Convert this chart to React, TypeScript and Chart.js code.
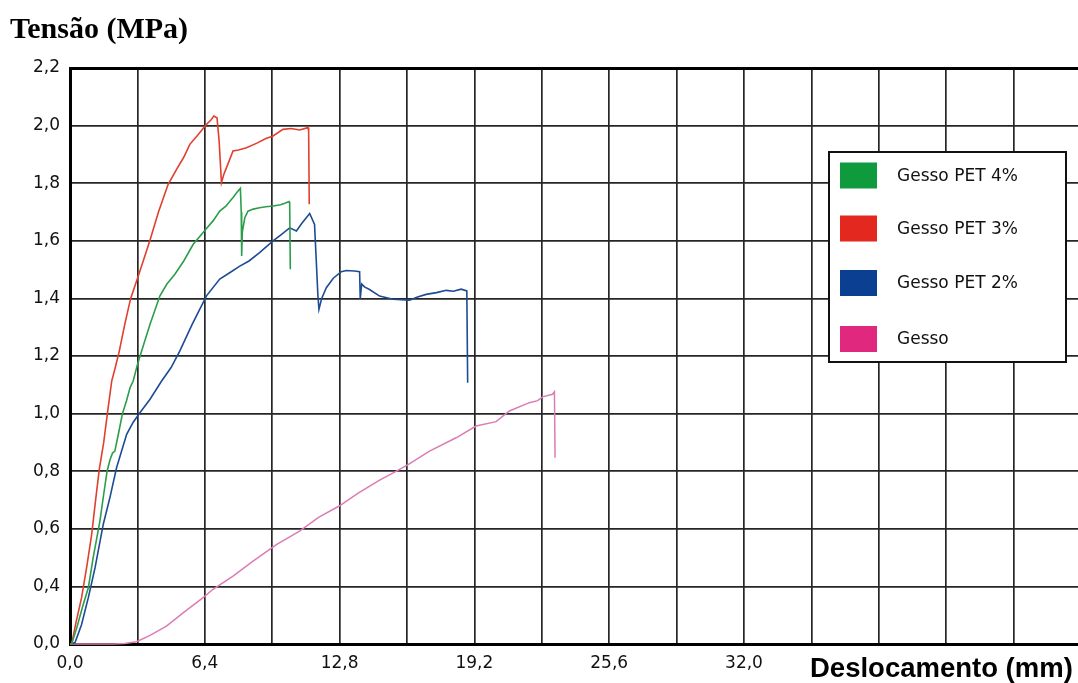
import React, { useEffect, useRef } from "react";
import { Chart, registerables } from "chart.js";

Chart.register(...registerables);

// ---- Data (Deslocamento mm, Tensão MPa as read against the axis labels) ----
const pet4X = [0, 0.08, 0.32, 0.6, 0.87, 1.1, 1.42, 1.6, 1.76, 1.9, 2.02, 2.13, 2.3, 2.49, 2.68, 2.85, 3.0, 3.2, 3.4, 3.8, 4.27, 4.6, 4.98, 5.4, 5.85, 6.45, 6.8, 7.11, 7.4, 7.74, 7.95, 8.09, 8.13, 8.15, 8.18, 8.3, 8.45, 8.7, 9.0, 9.3, 9.64, 10.0, 10.2, 10.4, 10.43, 10.46];
const pet4Y = [0.2, 0.2, 0.256, 0.33, 0.395, 0.5, 0.627, 0.72, 0.8, 0.84, 0.863, 0.87, 0.93, 1.0, 1.044, 1.09, 1.113, 1.17, 1.217, 1.31, 1.409, 1.45, 1.484, 1.53, 1.588, 1.64, 1.67, 1.703, 1.72, 1.75, 1.77, 1.782, 1.70, 1.547, 1.63, 1.68, 1.703, 1.71, 1.715, 1.718, 1.721, 1.725, 1.73, 1.736, 1.73, 1.501];

const pet3X = [0, 0.08, 0.3, 0.55, 0.8, 1.03, 1.2, 1.39, 1.6, 1.77, 1.98, 2.15, 2.34, 2.6, 2.88, 3.27, 3.79, 4.2, 4.66, 5.06, 5.4, 5.69, 6.1, 6.45, 6.7, 6.83, 6.98, 7.08, 7.19, 7.3, 7.43, 7.74, 8.0, 8.38, 8.9, 9.3, 9.64, 10.11, 10.5, 10.9, 11.3, 11.33, 11.36];
const pet3Y = [0.2, 0.2, 0.28, 0.361, 0.47, 0.581, 0.69, 0.806, 0.9, 0.997, 1.113, 1.16, 1.217, 1.31, 1.4, 1.484, 1.6, 1.7, 1.796, 1.848, 1.89, 1.935, 1.97, 2.002, 2.02, 2.033, 2.027, 1.947, 1.802, 1.83, 1.854, 1.912, 1.915, 1.923, 1.94, 1.955, 1.964, 1.987, 1.99, 1.985, 1.993, 1.98, 1.727];

const pet2X = [0, 0.24, 0.55, 0.87, 1.19, 1.58, 1.9, 2.21, 2.45, 2.69, 3.0, 3.32, 3.8, 4.35, 4.8, 5.21, 5.8, 6.48, 7.11, 7.6, 8.06, 8.5, 9.0, 9.64, 10.0, 10.43, 10.75, 11.0, 11.38, 11.61, 11.68, 11.77, 11.82, 11.95, 12.17, 12.5, 12.88, 13.12, 13.5, 13.75, 13.78, 13.85, 13.98, 14.22, 14.7, 15.33, 16.12, 16.5, 16.91, 17.4, 17.86, 18.2, 18.57, 18.84, 18.88];
const pet2Y = [0.2, 0.205, 0.268, 0.361, 0.465, 0.616, 0.71, 0.812, 0.87, 0.928, 0.97, 1.003, 1.05, 1.113, 1.16, 1.217, 1.31, 1.409, 1.467, 1.49, 1.512, 1.53, 1.559, 1.6, 1.62, 1.645, 1.634, 1.66, 1.695, 1.657, 1.55, 1.409, 1.362, 1.4, 1.437, 1.47, 1.493, 1.497, 1.495, 1.493, 1.399, 1.45, 1.44, 1.431, 1.408, 1.397, 1.394, 1.405, 1.414, 1.42, 1.428, 1.425, 1.432, 1.426, 1.107];

const gessoX = [0, 1.0, 2.04, 2.6, 3.16, 3.8, 4.58, 5.4, 6.32, 6.79, 7.74, 8.69, 9.8, 10.9, 11.8, 12.8, 13.7, 14.7, 15.5, 16.07, 17.07, 18.33, 19.28, 20.23, 20.86, 21.81, 22.2, 22.44, 22.91, 23.0, 23.03];
const gessoY = [0.2, 0.2, 0.2, 0.202, 0.208, 0.23, 0.262, 0.31, 0.361, 0.39, 0.436, 0.488, 0.545, 0.592, 0.64, 0.68, 0.725, 0.769, 0.8, 0.824, 0.87, 0.916, 0.957, 0.972, 1.009, 1.038, 1.045, 1.058, 1.067, 1.076, 0.847];

const seriesLabels = ["Gesso PET 4%", "Gesso PET 3%", "Gesso PET 2%", "Gesso"];
const lineColors = ["#2c9e4b", "#e0402f", "#1d4b94", "#dc7cb3"];
const swatchColors = ["#0f9a3e", "#e2281f", "#0a3f92", "#e0287f"];

const xGridValues = [0, 3.2, 6.4, 9.6, 12.8, 16.0, 19.2, 22.4, 25.6, 28.8, 32.0, 35.2, 38.4, 41.6, 44.8, 48.0];
const xTickLabels = ["0,0", "", "6,4", "", "12,8", "", "19,2", "", "25,6", "", "32,0", "", "", "", "", ""];
const yTickValues = [0.2, 0.4, 0.6, 0.8, 1.0, 1.2, 1.4, 1.6, 1.8, 2.0, 2.2];
const yTickLabels = ["0,0", "0,4", "0,6", "0,8", "1,0", "1,2", "1,4", "1,6", "1,8", "2,0", "2,2"];

const yTitle = "Tensão (MPa)";
const xTitle = "Deslocamento (mm)";

const CW = 1090;
const CH = 683;

export default function App() {
  const ref = useRef<HTMLCanvasElement | null>(null);

  useEffect(() => {
    const canvas = ref.current;
    if (!canvas) return;
    const toPts = (xs: number[], ys: number[]) => xs.map((x, i) => ({ x, y: ys[i] }));
    const seriesX = [pet4X, pet3X, pet2X, gessoX];
    const seriesY = [pet4Y, pet3Y, pet2Y, gessoY];

    const overlay = {
      id: "overlay",
      afterDraw(chart: any) {
        const ctx = chart.ctx as CanvasRenderingContext2D;
        ctx.save();
        ctx.fillStyle = "#000";
        ctx.textBaseline = "alphabetic";
        ctx.textAlign = "left";
        ctx.font = "bold 30px 'Liberation Serif'";
        ctx.fillText(yTitle, 10, 38);
        ctx.font = "bold 27.5px 'Liberation Sans'";
        ctx.fillText(xTitle, 810, 677);

        const bx = 829, by = 152, bw = 237, bh = 210;
        ctx.fillStyle = "#fff";
        ctx.fillRect(bx, by, bw, bh);
        ctx.lineWidth = 2;
        ctx.strokeStyle = "#111";
        ctx.strokeRect(bx, by, bw, bh);
        const centers = [175.5, 228.5, 283, 339];
        ctx.font = "17px 'DejaVu Sans'";
        ctx.textBaseline = "middle";
        seriesLabels.forEach((lab, i) => {
          ctx.fillStyle = swatchColors[i];
          ctx.fillRect(840, centers[i] - 13, 37, 26);
          ctx.fillStyle = "#111";
          ctx.fillText(lab, 897, centers[i] + 1);
        });
        ctx.restore();
      },
    };

    const chart = new Chart(canvas, {
      type: "line",
      data: {
        datasets: seriesLabels.map((label, i) => ({
          label,
          data: toPts(seriesX[i], seriesY[i]),
          borderColor: lineColors[i],
          backgroundColor: lineColors[i],
          borderWidth: i === 3 ? 1.5 : 1.6,
          pointRadius: 0,
          tension: 0,
          fill: false,
          clip: 4,
        })),
      },
      options: {
        responsive: false,
        animation: false,
        devicePixelRatio: 1,
        layout: { padding: { top: 68, right: 4, bottom: 0, left: 0 } },
        plugins: { legend: { display: false }, tooltip: { enabled: false } },
        scales: {
          x: {
            type: "linear",
            min: 0,
            max: 48,
            afterBuildTicks: (scale: any) => {
              scale.ticks = xGridValues.map((v) => ({ value: v }));
            },
            afterFit: (scale: any) => {
              scale.height = 39;
            },
            ticks: {
              autoSkip: false,
              maxRotation: 0,
              padding: 9,
              color: "#111",
              font: { family: "DejaVu Sans", size: 17 },
              callback: (_v: any, i: number) => xTickLabels[i] ?? "",
            },
            grid: { color: "#262626", lineWidth: 1.7, drawTicks: false },
            border: { color: "#000", width: 3 },
          },
          y: {
            type: "linear",
            min: 0.2,
            max: 2.2,
            afterBuildTicks: (scale: any) => {
              scale.ticks = yTickValues.map((v) => ({ value: v }));
            },
            afterFit: (scale: any) => {
              scale.width = 70;
            },
            ticks: {
              autoSkip: false,
              padding: 10,
              color: "#111",
              font: { family: "DejaVu Sans", size: 17 },
              callback: (_v: any, i: number) => yTickLabels[i] ?? "",
            },
            grid: {
              color: (c: any) => (c.tick && c.tick.value > 2.19 ? "#000" : "#262626"),
              lineWidth: (c: any) => (c.tick && c.tick.value > 2.19 ? 3 : 1.7),
              drawTicks: false,
            },
            border: { color: "#000", width: 3 },
          },
        },
      },
      plugins: [overlay],
    } as any);

    return () => chart.destroy();
  }, []);

  return (
    <div
      style={{
        position: "fixed",
        left: 0,
        top: 0,
        width: 1078,
        height: 683,
        overflow: "hidden",
        background: "#fff",
      }}
    >
      <canvas ref={ref} width={CW} height={CH} style={{ display: "block", width: CW, height: CH }} />
    </div>
  );
}
